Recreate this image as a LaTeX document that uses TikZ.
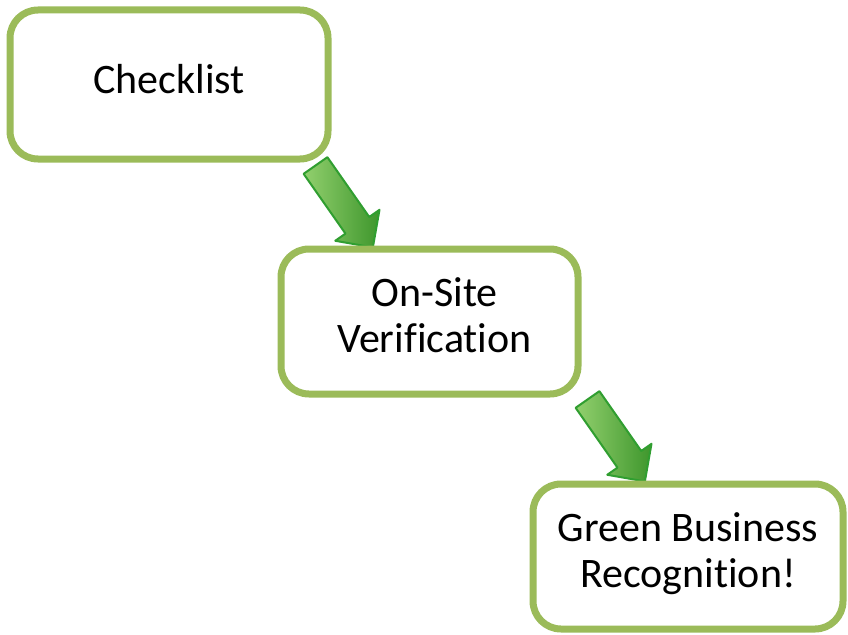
\documentclass[tikz,border=0pt]{standalone}
\usepackage{fontspec}
\setmainfont[Ligatures=NoCommon]{Carlito}
\usetikzlibrary{calc}
\usetikzlibrary{backgrounds}
\definecolor{boxgreen}{RGB}{155,187,89}
\definecolor{arrowlight}{RGB}{146,208,110}
\definecolor{arrowdark}{RGB}{62,150,44}
\definecolor{arrowedge}{RGB}{48,158,48}
\tikzset{
  stage/.style={draw=boxgreen, line width=7pt, rounded corners=28pt, fill=white,
    align=center, text depth=12pt, font=\fontsize{42}{46}\selectfont},
  blockarrow/.style={draw=arrowedge, line width=2pt, line join=round,
    left color=arrowlight, right color=arrowdark}
}
\begin{document}
\begin{tikzpicture}[x=1pt,y=-1pt]
\useasboundingbox (0,0) rectangle (848,634);

\node[stage, minimum width=318pt, minimum height=149pt] (check) at (169,84.5) {Checklist};
\node[stage, minimum width=297pt, minimum height=145pt] (verify) at (429.5,321.5) {\hspace*{10pt}On-Site\\\hspace*{10pt}Verification};
\node[stage, minimum width=310pt, minimum height=145pt] (recog) at (688,556.5) {Green Business\\Recognition!};

% tails of the arrows start under the boxes
\coordinate (a1) at ($(check.south east)+(-16,3)$);
\coordinate (a2) at ($(verify.south east)+(6,2)$);

\begin{scope}[on background layer]
\foreach \a in {a1,a2}
  \draw[blockarrow, shift={(\a)}, rotate=-55]
    (0,-14.5) -- (73,-14.5) -- (73,-27) -- (100,0) -- (73,27) -- (73,14.5) -- (0,14.5) -- cycle;
\end{scope}
\end{tikzpicture}
\end{document}
